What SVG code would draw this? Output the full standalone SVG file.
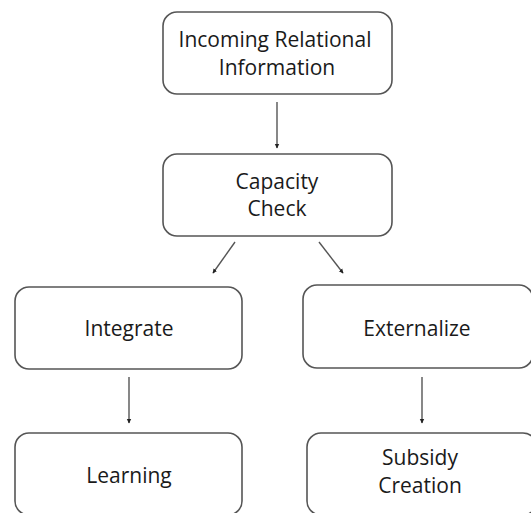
<svg xmlns="http://www.w3.org/2000/svg" width="531" height="513" viewBox="0 0 531 513">
<defs>
<style>
.box{fill:#fff;stroke:#555;stroke-width:1.6}
.t{font-family:"Open Sans","Liberation Sans",sans-serif;font-size:21px;fill:#1a1a1a;text-anchor:middle}
.c{stroke:#555;stroke-width:1.4;fill:none;marker-end:url(#ah)}
</style>
<marker id="ah" markerWidth="6" markerHeight="6" refX="4" refY="3" orient="auto" markerUnits="userSpaceOnUse">
<path d="M0,0.8 L4.5,3 L0,5.2 Z" fill="#222"/>
</marker>
</defs>
<rect width="531" height="513" fill="#fff"/>
<g id="connectors">
<line class="c" x1="277" y1="102" x2="277" y2="148"/>
<line class="c" x1="235" y1="242" x2="213" y2="273"/>
<line class="c" x1="319" y1="242" x2="343" y2="273"/>
<line class="c" x1="129" y1="377" x2="129" y2="423"/>
<line class="c" x1="422" y1="377" x2="422" y2="423"/>
</g>
<g id="incoming">
<rect class="box" x="163" y="12" width="229" height="82" rx="14"/>
<text class="t" x="275" y="47">Incoming Relational</text>
<text class="t" x="277" y="75">Information</text>
</g>
<g id="capacity">
<rect class="box" x="163" y="154" width="229" height="82" rx="14"/>
<text class="t" x="277" y="189">Capacity</text>
<text class="t" x="277" y="216">Check</text>
</g>
<g id="integrate">
<rect class="box" x="15" y="287" width="227" height="82" rx="14"/>
<text class="t" x="129" y="336">Integrate</text>
</g>
<g id="externalize">
<rect class="box" x="303" y="285" width="230" height="83" rx="14"/>
<text class="t" x="417" y="336">Externalize</text>
</g>
<g id="learning">
<rect class="box" x="15" y="433" width="227" height="82" rx="14"/>
<text class="t" x="129" y="483">Learning</text>
</g>
<g id="subsidy">
<rect class="box" x="307" y="433" width="230" height="82" rx="14"/>
<text class="t" x="420" y="465">Subsidy</text>
<text class="t" x="420" y="493">Creation</text>
</g>
</svg>
